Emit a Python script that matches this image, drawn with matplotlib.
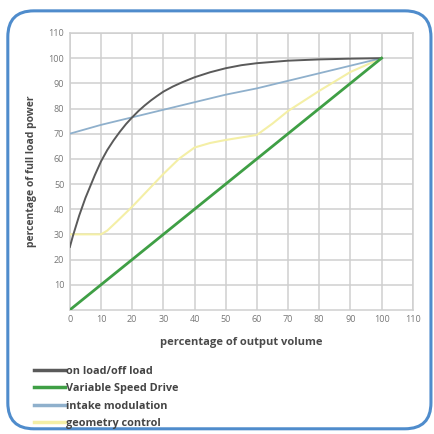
import matplotlib.pyplot as plt
from matplotlib.patches import FancyBboxPatch

# values
x_onoff = [0, 1, 2, 3, 4, 5, 6, 8, 10, 12, 14, 16, 18, 20, 22, 24, 26, 28, 30,
           33, 36, 40, 45, 50, 55, 60, 70, 80, 90, 100]
y_onoff = [25, 29.5, 33.5, 37.5, 41, 44.5, 47.5, 53.5, 59, 63.5, 67.3, 70.7, 73.8, 76.5,
           79, 81.2, 83.2, 85, 86.7, 88.7, 90.4, 92.4, 94.4, 96, 97.2, 98, 99, 99.5, 99.8, 100]

x_vsd = [0, 100]
y_vsd = [0, 100]

x_intake = [0, 10, 20, 30, 40, 50, 60, 70, 80, 90, 100]
y_intake = [70, 73.5, 76.5, 79.5, 82.5, 85.5, 88, 91, 94, 97, 100]

x_geom = [0, 10, 12, 15, 20, 25, 30, 35, 40, 45, 50, 60, 65, 70, 80, 90, 100]
y_geom = [30, 30, 31.5, 35, 41, 47.5, 54, 60, 64.5, 66.3, 67.5, 69.5, 74, 79, 87, 94.5, 100]

x_ticks = [0, 10, 20, 30, 40, 50, 60, 70, 80, 90, 100, 110]
y_ticks = [10, 20, 30, 40, 50, 60, 70, 80, 90, 100, 110]

plt.rcParams['font.family'] = ['Open Sans', 'DejaVu Sans']

fig = plt.figure(figsize=(4.34, 4.34), dpi=100)
fig.patch.set_facecolor('white')

# rounded blue frame around everything
frame = FancyBboxPatch((0.018, 0.012), 0.975, 0.963,
                       boxstyle="round,pad=0,rounding_size=0.06",
                       transform=fig.transFigure, facecolor='none',
                       edgecolor='#4f8ccc', linewidth=2.2, zorder=0)
fig.patches.append(frame)

ax = fig.add_axes([0.161, 0.286, 0.790, 0.638])
ax.set_facecolor('white')

ax.plot(x_onoff, y_onoff, color='#5a5a5a', lw=1.4, label='on load/off load', zorder=5)
ax.plot(x_vsd, y_vsd, color='#3f9f45', lw=2.0, label='Variable Speed Drive', zorder=6)
ax.plot(x_intake, y_intake, color='#8fb0cc', lw=1.3, label='intake modulation', zorder=4)
ax.plot(x_geom, y_geom, color='#f4efa6', lw=1.5, label='geometry control', zorder=3)

ax.set_xlim(0, 110)
ax.set_ylim(0, 110)
ax.set_xticks(x_ticks)
ax.set_yticks(y_ticks)
ax.set_xticklabels([str(v) for v in x_ticks])
ax.set_yticklabels([str(v) for v in y_ticks])
ax.tick_params(length=0, labelsize=6.5, colors='#777777', pad=4)
ax.grid(True, color='#cfcfcf', lw=1.1)
ax.set_axisbelow(True)
for s in ax.spines.values():
    s.set_color('#cfcfcf')
    s.set_linewidth(1.1)

ax.set_xlabel('percentage of output volume', fontsize=8, fontweight='bold',
              color='#4a4a4a', labelpad=9)
ax.set_ylabel('percentage of full load power', fontsize=7.5, fontweight='bold',
              color='#4a4a4a', labelpad=8)

leg = fig.legend(loc='upper left', bbox_to_anchor=(0.065, 0.170), frameon=False,
                 fontsize=7.8, handlelength=2.9, handletextpad=0.1,
                 labelspacing=0.6, borderpad=0)
for t in leg.get_texts():
    t.set_fontweight('bold')
    t.set_color('#444444')
for ln in leg.get_lines():
    ln.set_linewidth(2.5)

fig.savefig('out.png', dpi=100)
